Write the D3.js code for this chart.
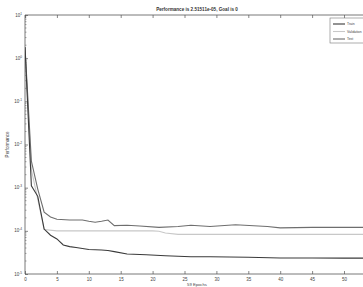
<!DOCTYPE html>
<html><head><meta charset="utf-8">
<script src="https://cdn.jsdelivr.net/npm/d3@7"></script>
<style>body{margin:0;background:#fff}svg{display:block}text{font-family:"Liberation Sans",Arial,sans-serif}</style>
</head><body>
<svg id="c" width="363" height="287"></svg>
<script>
const titleText = "Performance is 2.51511e-05, Goal is 0";
const xLabel = "59 Epochs";
const yLabel = "Performance";
const xTicks = [0,5,10,15,20,25,30,35,40,45,50];
const yExps = [1,0,-1,-2,-3,-4,-5];
const seriesNames = ["Train","Validation","Test"];

const trainEpochs = [0,1,2,3,4,5,6,7,8,10,12,13,14,16,19,22,26,29,35,40,45,50,55,59];
const trainPerf = [1.8,1.1e-3,6.3e-4,1.1e-4,7.9e-5,6.5e-5,4.7e-5,4.3e-5,4.1e-5,3.7e-5,3.6e-5,3.5e-5,3.3e-5,2.9e-5,2.8e-5,2.65e-5,2.5e-5,2.5e-5,2.45e-5,2.35e-5,2.35e-5,2.33e-5,2.33e-5,2.33e-5];

const valEpochs = [0,1,2,3,5,10,15,20,21,22,24,30,40,50,59];
const valPerf = [1.6,2.6e-3,5.4e-4,1.07e-4,1.0e-4,1.0e-4,1.0e-4,1.0e-4,9.8e-5,8.9e-5,8.3e-5,8.3e-5,8.3e-5,8.3e-5,8.3e-5];

const testEpochs = [0,1,2,3,4,5,7,9,10,11,12,13,14,16,18,21,24,26,29,33,38,40,45,53,59];
const testPerf = [1.8,4.1e-3,9.3e-4,2.7e-4,2.1e-4,1.86e-4,1.78e-4,1.78e-4,1.66e-4,1.58e-4,1.66e-4,1.78e-4,1.32e-4,1.35e-4,1.29e-4,1.2e-4,1.26e-4,1.35e-4,1.26e-4,1.38e-4,1.26e-4,1.17e-4,1.2e-4,1.2e-4,1.2e-4];

const colors = ["#3a3a3a","#c8c8c8","#6e6e6e"];

const svg = d3.select("#c");
const L = 25, T = 15, B = 274;
const x = d3.scaleLinear().domain([0,50]).range([L,344]);
const y = d3.scaleLog().domain([1e-5,10]).range([B,T]);
const R = 420;

const axisColor = "#555";
svg.append("path").attr("d",`M${L},${T}H${R}M${L},${T}V${B}H${R}`).attr("fill","none").attr("stroke",axisColor).attr("stroke-width",0.8);

const xAxis = d3.axisBottom(x).tickValues(xTicks).tickSize(-3).tickPadding(4).tickFormat(d3.format("d"));
const gx = svg.append("g").attr("transform",`translate(0,${B})`).call(xAxis);
gx.select(".domain").remove();
gx.selectAll("line").attr("stroke",axisColor).attr("stroke-width",0.7);
gx.selectAll("text").attr("font-size",4.5).attr("fill","#444");
const gxt = svg.append("g").attr("transform",`translate(0,${T})`).call(d3.axisTop(x).tickValues(xTicks).tickSize(-3).tickFormat(""));
gxt.select(".domain").remove();
gxt.selectAll("line").attr("stroke",axisColor).attr("stroke-width",0.7);

const gy = svg.append("g").attr("transform",`translate(${L},0)`)
  .call(d3.axisLeft(y).tickValues(yExps.map(e=>Math.pow(10,e))).tickSize(-3).tickPadding(3).tickFormat(""));
gy.select(".domain").remove();
gy.selectAll("line").attr("stroke",axisColor).attr("stroke-width",0.7);
const minors = [];
yExps.forEach(e=>{ if(e>-5) for(let k=2;k<10;k++) minors.push(k*Math.pow(10,e-1)); });
svg.append("g").selectAll("line").data(minors).join("line")
  .attr("x1",L).attr("x2",L+1.5).attr("y1",d=>y(d)).attr("y2",d=>y(d)).attr("stroke",axisColor).attr("stroke-width",0.5);
const yl = svg.append("g").selectAll("text").data(yExps).join("text")
  .attr("x",L-3).attr("y",d=>y(Math.pow(10,d))+1.5).attr("text-anchor","end").attr("font-size",4.5).attr("fill","#444");
yl.append("tspan").text("10");
yl.append("tspan").attr("dy",-2).attr("font-size",3.2).text(d=>d);

svg.append("text").attr("x",197).attr("y",11).attr("text-anchor","middle").attr("font-size",4.6).attr("font-weight","bold").attr("fill","#333").text(titleText);
svg.append("text").attr("transform",`translate(9,${(T+B)/2}) rotate(-90)`).attr("text-anchor","middle").attr("font-size",4.5).attr("fill","#444").text(yLabel);
svg.append("text").attr("x",197).attr("y",285.5).attr("text-anchor","middle").attr("font-size",4.2).attr("fill","#444").text(xLabel);

svg.append("clipPath").attr("id","cp").append("rect").attr("x",L).attr("y",T).attr("width",R-L).attr("height",B-T);
const line = d3.line().x(d=>x(d[0])).y(d=>y(d[1]));
const sets = [[trainEpochs,trainPerf],[valEpochs,valPerf],[testEpochs,testPerf]];
[1,2,0].forEach(i=>{
  const pts = sets[i][0].map((e,j)=>[e,sets[i][1][j]]);
  svg.append("path").attr("d",line(pts)).attr("fill","none").attr("stroke",colors[i]).attr("stroke-width",1.1).attr("clip-path","url(#cp)");
});

const lg = svg.append("g");
lg.append("rect").attr("x",330).attr("y",18).attr("width",40).attr("height",25).attr("fill","#fff").attr("stroke","#777").attr("stroke-width",0.6);
seriesNames.forEach((n,i)=>{
  const yy = 24 + i*7.5;
  lg.append("line").attr("x1",333).attr("x2",345).attr("y1",yy).attr("y2",yy).attr("stroke",colors[i]).attr("stroke-width",1.1);
  lg.append("text").attr("x",347).attr("y",yy+1.3).attr("font-size",3.4).attr("fill","#444").text(n);
});
</script>
</body></html>
